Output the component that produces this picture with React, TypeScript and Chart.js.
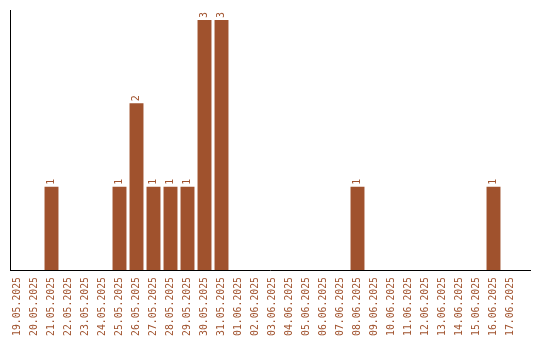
import React, { useEffect, useRef } from "react";
import { Chart, registerables } from "chart.js";

Chart.register(...registerables);

const categories = [
  "19.05.2025", "20.05.2025", "21.05.2025", "22.05.2025", "23.05.2025",
  "24.05.2025", "25.05.2025", "26.05.2025", "27.05.2025", "28.05.2025",
  "29.05.2025", "30.05.2025", "31.05.2025", "01.06.2025", "02.06.2025",
  "03.06.2025", "04.06.2025", "05.06.2025", "06.06.2025", "07.06.2025",
  "08.06.2025", "09.06.2025", "10.06.2025", "11.06.2025", "12.06.2025",
  "13.06.2025", "14.06.2025", "15.06.2025", "16.06.2025", "17.06.2025",
];

const counts = [
  0, 0, 1, 0, 0,
  0, 1, 2, 1, 1,
  1, 3, 3, 0, 0,
  0, 0, 0, 0, 0,
  1, 0, 0, 0, 0,
  0, 0, 0, 1, 0,
];

const COLOR = "#A0522D";
const FONT = "'DejaVu Sans Mono', monospace";

const valueLabels = {
  id: "valueLabels",
  afterDatasetsDraw(chart: any) {
    const ctx = chart.ctx;
    const meta = chart.getDatasetMeta(0);
    ctx.save();
    ctx.fillStyle = COLOR;
    ctx.font = `10px ${FONT}`;
    ctx.textAlign = "left";
    ctx.textBaseline = "middle";
    meta.data.forEach((bar: any, i: number) => {
      const v = counts[i];
      if (!v) return;
      ctx.save();
      ctx.translate(bar.x, bar.y - 2);
      ctx.rotate(-Math.PI / 2);
      ctx.fillText(String(v), 0, 0);
      ctx.restore();
    });
    ctx.restore();
  },
};

const axisLines = {
  id: "axisLines",
  afterDraw(chart: any) {
    const { ctx, chartArea } = chart;
    ctx.save();
    ctx.strokeStyle = "#000";
    ctx.lineWidth = 1;
    ctx.beginPath();
    ctx.moveTo(10.5, chartArea.top);
    ctx.lineTo(10.5, chartArea.bottom + 0.5);
    ctx.moveTo(10, chartArea.bottom + 0.5);
    ctx.lineTo(531, chartArea.bottom + 0.5);
    ctx.stroke();
    ctx.restore();
  },
};

export default function App() {
  const ref = useRef<HTMLCanvasElement>(null);
  useEffect(() => {
    document.body.style.margin = "0";
    const chart = new Chart(ref.current!, {
      type: "bar",
      data: {
        labels: categories,
        datasets: [
          {
            data: counts,
            backgroundColor: COLOR,
            borderWidth: 0,
            barPercentage: 0.82,
            categoryPercentage: 1,
          },
        ],
      },
      options: {
        animation: false,
        responsive: false,
        layout: { padding: { left: 9, right: 21, top: 10, bottom: 0 } },
        plugins: { legend: { display: false }, tooltip: { enabled: false } },
        scales: {
          x: {
            grid: { display: false, drawTicks: false },
            border: { display: false },
            ticks: {
              color: COLOR,
              font: { family: FONT, size: 9.8 },
              minRotation: 90,
              maxRotation: 90,
              autoSkip: false,
              padding: 7,
            },
            afterFit(scale: any) {
              scale.height = 70;
            },
          },
          y: {
            min: 0,
            max: 3.12,
            grid: { display: false, drawTicks: false },
            border: { display: false },
            ticks: { display: false },
            afterFit(scale: any) {
              scale.width = 0;
            },
          },
        },
      },
      plugins: [valueLabels, axisLines],
    });
    return () => chart.destroy();
  }, []);
  return <canvas ref={ref} width={540} height={340} style={{ display: "block" }} />;
}
